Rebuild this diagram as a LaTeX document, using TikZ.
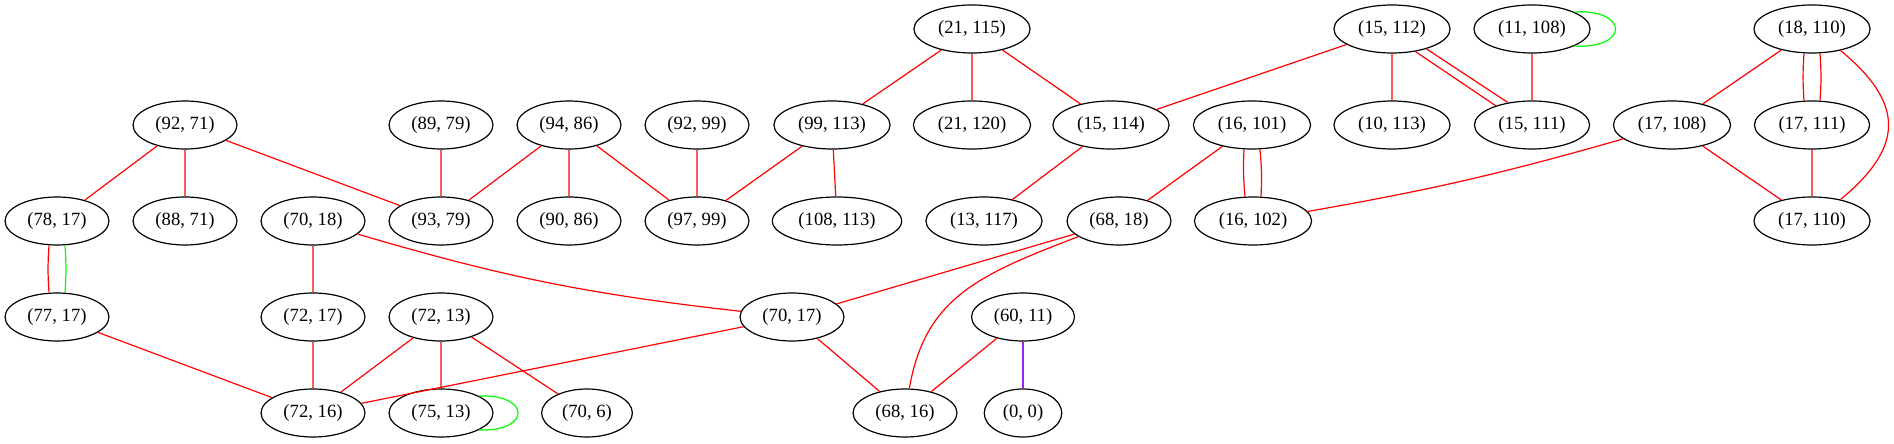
\documentclass[tikz,border=0pt]{standalone}
\usepackage{fontspec}
\setmainfont{Liberation Serif}
\usetikzlibrary{shapes.geometric}
\definecolor{edgered}{RGB}{255,0,0}
\definecolor{edgegreen}{RGB}{0,255,0}
\definecolor{edgepurple}{RGB}{160,32,240}
\tikzset{pair/.style={ellipse, draw, line width=0.9pt, inner xsep=5.4pt, inner ysep=0pt, minimum height=36pt, font=\fontsize{14}{16}\selectfont}}

\begin{document}
\begin{tikzpicture}[x=0.75pt, y=0.75pt, line width=0.9pt]
      \useasboundingbox (0,0) rectangle (1894,443);

      \node[pair] (n21-115) at (972,414) {(21, 115)};
      \node[pair] (n15-112) at (1392,414) {(15, 112)};
      \node[pair] (n11-108) at (1532,414) {(11, 108)};
      \node[pair] (n18-110) at (1812,414) {(18, 110)};

      \node[pair] (n92-71) at (185,318) {(92, 71)};
      \node[pair] (n89-79) at (441,318) {(89, 79)};
      \node[pair] (n94-86) at (569,318) {(94, 86)};
      \node[pair] (n92-99) at (697,318) {(92, 99)};
      \node[pair] (n99-113) at (832,318) {(99, 113)};
      \node[pair] (n21-120) at (972,318) {(21, 120)};
      \node[pair] (n15-114) at (1111,318) {(15, 114)};
      \node[pair] (n16-101) at (1252,318) {(16, 101)};
      \node[pair] (n10-113) at (1392,318) {(10, 113)};
      \node[pair] (n15-111) at (1532,318) {(15, 111)};
      \node[pair] (n17-108) at (1672,318) {(17, 108)};
      \node[pair] (n17-111) at (1812,318) {(17, 111)};

      \node[pair] (n78-17) at (57,222) {(78, 17)};
      \node[pair] (n88-71) at (185,222) {(88, 71)};
      \node[pair] (n70-18) at (313,222) {(70, 18)};
      \node[pair] (n93-79) at (441,222) {(93, 79)};
      \node[pair] (n90-86) at (569,222) {(90, 86)};
      \node[pair] (n97-99) at (697,222) {(97, 99)};
      \node[pair] (n108-113) at (837,222) {(108, 113)};
      \node[pair] (n13-117) at (984,222) {(13, 117)};
      \node[pair] (n68-18) at (1119,222) {(68, 18)};
      \node[pair] (n16-102) at (1253,222) {(16, 102)};
      \node[pair] (n17-110) at (1812,222) {(17, 110)};

      \node[pair] (n77-17) at (57,126) {(77, 17)};
      \node[pair] (n72-17) at (313,126) {(72, 17)};
      \node[pair] (n72-13) at (441,126) {(72, 13)};
      \node[pair] (n70-17) at (792,126) {(70, 17)};
      \node[pair] (n60-11) at (1023,126) {(60, 11)};

      \node[pair] (n72-16) at (313,30) {(72, 16)};
      \node[pair] (n75-13) at (441,30) {(75, 13)};
      \node[pair] (n70-6) at (587,30) {(70, 6)};
      \node[pair] (n68-16) at (905,30) {(68, 16)};
      \node[pair] (n0-0) at (1023,30) {(0, 0)};

      \draw[edgered] (n21-115) -- (n99-113) -- (n97-99) -- (n92-99)
        (n21-115) -- (n21-120)
        (n21-115) -- (n15-114) -- (n13-117)
        (n15-112) -- (n15-114)
        (n15-112) -- (n10-113)
        (n11-108) -- (n15-111)
        (n18-110) -- (n17-108) -- (n17-110) -- (n17-111)
        (n92-71) -- (n78-17)
        (n92-71) -- (n88-71)
        (n92-71) -- (n93-79) -- (n89-79)
        (n94-86) -- (n93-79)
        (n94-86) -- (n90-86)
        (n94-86) -- (n97-99)
        (n99-113) -- (n108-113)
        (n16-101) -- (n68-18) -- (n70-17)
        (n70-18) -- (n72-17) -- (n72-16) -- (n72-13) -- (n75-13)
        (n77-17) -- (n72-16) -- (n70-17) -- (n68-16) -- (n60-11)
        (n72-13) -- (n70-6);
      \draw[edgered] (n70-18) to[bend right=5] (n70-17);
      \draw[edgered] (n17-108) to[bend left=3] (n16-102);
      \draw[edgered] (n68-18.-159) .. controls (978,168) and (925,145) .. (n68-16.80);
      \draw[edgered] (n18-110.-37) .. controls +(64,-53) and +(64,53) .. (n17-110.37);

      % double connectors
      \draw[edgered] (n15-112.-44) -- (n15-111.152);
      \draw[edgered] (n15-112.-30) -- (n15-111.137);
      \draw[edgered] ([xshift=-6pt]n16-101.south) to[bend right=4] ([xshift=-6pt]n16-102.north);
      \draw[edgered] ([xshift=6pt]n16-101.south) to[bend left=4] ([xshift=6pt]n16-102.north);
      \draw[edgered] ([xshift=-6pt]n18-110.south) to[bend right=4] ([xshift=-6pt]n17-111.north);
      \draw[edgered] ([xshift=6pt]n18-110.south) to[bend left=4] ([xshift=6pt]n17-111.north);
      \draw[edgered] ([xshift=-6pt]n78-17.south) to[bend right=4] ([xshift=-6pt]n77-17.north);
      \draw[edgegreen] ([xshift=6pt]n78-17.south) to[bend left=4] ([xshift=6pt]n77-17.north);

      % loops
      \draw[edgegreen] (n11-108.22) .. controls +(55,3) and +(55,-3) .. (n11-108.-22);
      \draw[edgegreen] (n75-13.24) .. controls +(52,2) and +(52,-2) .. (n75-13.-24);

      \draw[edgepurple] (n60-11) -- (n0-0);
    \end{tikzpicture}
\end{document}
